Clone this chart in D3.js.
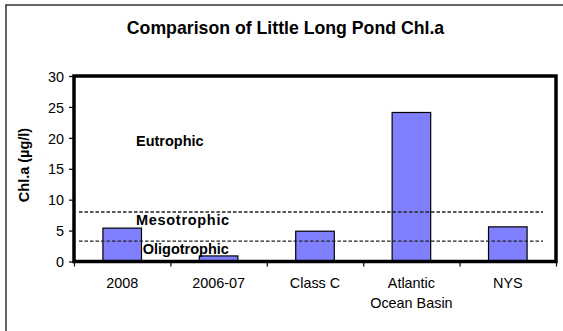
<!DOCTYPE html>
<html>
<head>
<meta charset="utf-8">
<script src="https://cdn.jsdelivr.net/npm/d3@7"></script>
<style>
  html, body { margin: 0; padding: 0; background: #fff; }
  svg { display: block; font-family: "Liberation Sans", Arial, sans-serif; }
</style>
</head>
<body>
<svg id="chart" width="563" height="331"></svg>
<script>
// Chlorophyll-a comparison data
const categories = [["2008"], ["2006-07"], ["Class C"], ["Atlantic", "Ocean Basin"], ["NYS"]];
const chlValues = [5.4, 0.9, 4.9, 24.1, 5.6];
const yTicks = [0, 5, 10, 15, 20, 25, 30];
// Trophic state boundaries (µg/l)
const thresholds = [8, 3.3];
// Trophic zone labels: name, x position (in category units), y value
const zoneNames = ["Eutrophic", "Mesotrophic", "Oligotrophic"];
const zoneX = [0.643, 0.643, 0.713];
const zoneY = [19.5, 6.7, 2.1];

const svg = d3.select("#chart");
const plot = { left: 74, right: 556, top: 76, bottom: 261.5 };

// Outer chart frame
svg.append("rect")
  .attr("x", 6).attr("y", 5).attr("width", 559).attr("height", 340)
  .attr("fill", "none").attr("stroke", "#333").attr("stroke-width", 1.5);

svg.append("text")
  .attr("x", 285.5).attr("y", 34)
  .attr("text-anchor", "middle")
  .attr("font-size", 17.7).attr("font-weight", "bold")
  .text("Comparison of Little Long Pond Chl.a");

const x = d3.scaleBand()
  .domain(d3.range(categories.length))
  .range([plot.left, plot.right])
  .paddingInner(0.6).paddingOuter(0.3);

const xLin = d3.scaleLinear().domain([0, categories.length]).range([plot.left, plot.right]);

const y = d3.scaleLinear().domain([0, 30]).range([plot.bottom, plot.top]);

// Y axis
const yAxis = svg.append("g")
  .attr("transform", `translate(${plot.left},0)`)
  .call(d3.axisLeft(y).tickValues(yTicks).tickSize(5).tickPadding(5));
yAxis.select(".domain").remove();
yAxis.selectAll(".tick line").attr("stroke", "#000").attr("stroke-width", 1.2);
yAxis.selectAll(".tick text")
  .attr("font-size", 14.4).attr("font-family", "Liberation Sans, Arial, sans-serif")
  .attr("fill", "#000").attr("dy", "0.36em");

// X axis tick marks at category boundaries
const xAxis = svg.append("g")
  .attr("transform", `translate(0,${plot.bottom})`)
  .call(d3.axisBottom(xLin).tickValues(d3.range(categories.length + 1)).tickSize(5).tickFormat(""));
xAxis.select(".domain").remove();
xAxis.selectAll(".tick line").attr("stroke", "#000").attr("stroke-width", 1.2);

// Category labels
const labels = svg.append("g");
categories.forEach((lines, i) => {
  const t = labels.append("text")
    .attr("x", x(i) + x.bandwidth() / 2)
    .attr("y", 288)
    .attr("text-anchor", "middle")
    .attr("font-size", 14.4);
  lines.forEach((ln, j) => {
    t.append("tspan")
      .attr("x", x(i) + x.bandwidth() / 2)
      .attr("dy", j === 0 ? 0 : 20)
      .text(ln);
  });
});

// Y axis title
svg.append("text")
  .attr("transform", "translate(29,165) rotate(-90)")
  .attr("text-anchor", "middle")
  .attr("font-size", 14.5).attr("font-weight", "bold")
  .text("Chl.a (µg/l)");

// Bars
svg.append("g").selectAll("rect")
  .data(chlValues)
  .join("rect")
  .attr("x", (d, i) => x(i))
  .attr("y", d => y(d))
  .attr("width", x.bandwidth())
  .attr("height", d => y(0) - y(d))
  .attr("fill", "#8080ff")
  .attr("stroke", "#000")
  .attr("stroke-width", 1.2);

// Trophic threshold lines
svg.append("g").selectAll("line")
  .data(thresholds)
  .join("line")
  .attr("x1", 79).attr("x2", 543)
  .attr("y1", d => y(d)).attr("y2", d => y(d))
  .attr("stroke", "#222").attr("stroke-width", 1.4)
  .attr("stroke-dasharray", "3.5,2");

// Trophic zone labels
svg.append("g").selectAll("text")
  .data(zoneNames)
  .join("text")
  .attr("x", (d, i) => xLin(zoneX[i]))
  .attr("y", (d, i) => y(zoneY[i]))
  .attr("dy", "0.36em")
  .attr("font-size", 14.5).attr("font-weight", "bold")
  .attr("letter-spacing", (d, i) => i === 1 ? 0.7 : 0)
  .text(d => d);

// Plot area border
svg.append("rect")
  .attr("x", plot.left).attr("y", plot.top)
  .attr("width", plot.right - plot.left).attr("height", plot.bottom - plot.top)
  .attr("fill", "none").attr("stroke", "#000").attr("stroke-width", 3.5);
</script>
</body>
</html>
